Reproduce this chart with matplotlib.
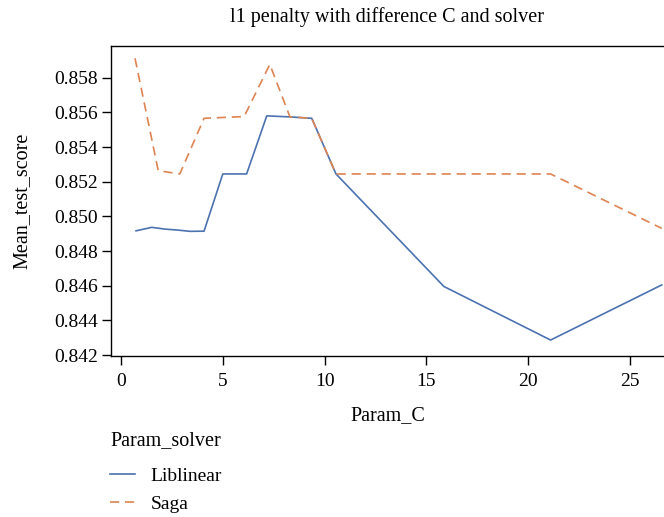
import matplotlib
matplotlib.use("Agg")
import matplotlib.pyplot as plt

plt.rcParams['font.family'] = ['Liberation Serif', 'DejaVu Serif']

# Data
lib_C = [0.74, 1.51, 2.16, 2.81, 3.39, 4.08, 5.0, 6.17, 7.16, 8.3, 9.37, 10.56, 15.86, 21.1, 26.56]
lib_score = [0.84917, 0.84937, 0.84927, 0.84921, 0.84914, 0.84915, 0.85245, 0.85245,
             0.85580, 0.85574, 0.85566, 0.85245, 0.84596, 0.84287, 0.84605]
saga_C = [0.69, 1.83, 2.89, 4.08, 6.05, 7.31, 8.3, 9.37, 10.56, 21.1, 26.56]
saga_score = [0.85912, 0.85264, 0.85245, 0.85566, 0.85576, 0.85877, 0.85574, 0.85566,
              0.85245, 0.85245, 0.84931]
x_ticks = [0, 5, 10, 15, 20, 25]
y_ticks = [0.842, 0.844, 0.846, 0.848, 0.850, 0.852, 0.854, 0.856, 0.858]
series_names = ['Liblinear', 'Saga']

fig = plt.figure(figsize=(6.64, 5.17), dpi=100)
ax = fig.add_axes([111/664, 1 - 356/517, 1 - 111/664, (356 - 46)/517])

l1, = ax.plot(lib_C, lib_score, color='#4C72B0', lw=1.2, label=series_names[0])
l2, = ax.plot(saga_C, saga_score, color='#DD8452', lw=1.2, ls=(0, (5.5, 3.5)), label=series_names[1])

ax.set_xlim(-0.49, 26.67)
ax.set_ylim(0.84195, 0.85983)
ax.set_xticks(x_ticks)
ax.set_xticklabels([str(t) for t in x_ticks])
ax.set_yticks(y_ticks)
ax.set_yticklabels([f"{t:.3f}" for t in y_ticks])
ax.spines['right'].set_visible(False)
for s in ['left', 'bottom', 'top']:
    ax.spines[s].set_linewidth(1.0)
ax.tick_params(axis='both', labelsize=14, length=6.5, width=1.0, pad=3)
ax.tick_params(axis='x', pad=6)

ax.set_title('l1 penalty with difference C and solver', fontsize=14.5, pad=17)
ax.set_xlabel('Param_C', fontsize=14.5, labelpad=11)
ax.set_ylabel('Mean_test_score', fontsize=14.5, labelpad=16)

fig.text(110/664, 1 - 441/517, 'Param_solver', fontsize=14.5, ha='left', va='center')
leg = fig.legend(handles=[l1, l2], labels=series_names,
                 loc='upper left', bbox_to_anchor=(110/664, 1 - 467/517),
                 frameon=False, fontsize=14, borderpad=0,
                 handlelength=1.3, handletextpad=0.8, labelspacing=0.55,
                 borderaxespad=0)

fig.savefig('out.png', dpi=100)
